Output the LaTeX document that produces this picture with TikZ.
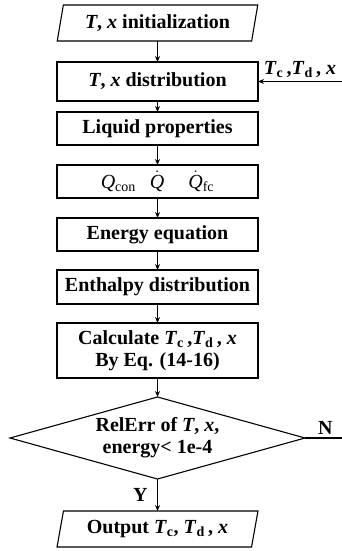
\documentclass[tikz,border=0pt]{standalone}
\usepackage{amsmath}
\usepackage{fontspec}
\setmainfont{Liberation Serif}
\usetikzlibrary{arrows.meta,positioning,shapes.geometric}

\begin{document}
\begin{tikzpicture}[
    x=1pt,y=-1pt,
    font=\fontsize{20}{22}\selectfont\bfseries,
    box/.style={rectangle,draw,line width=1.1pt,minimum width=201pt,minimum height=33pt,align=center,inner sep=2pt,outer sep=0pt},
    io/.style={trapezium,trapezium left angle=77,trapezium right angle=103,trapezium stretches=true,draw,line width=1.1pt,minimum width=201pt,minimum height=36pt,inner sep=2pt,outer sep=0pt},
    decision/.style={diamond,draw,line width=1.1pt,aspect=3.6,minimum width=295pt,minimum height=82pt,inner sep=0pt,outer sep=0pt,align=center},
    arrow/.style={-{Stealth[length=6pt,width=5pt]},line width=1.1pt}
]
    \useasboundingbox (0,0) rectangle (342,551);

    % Nodes
    \node[io] (init) at (157.5,23) {\textit{T}, \textit{x} initialization};
    \node[box,minimum height=39pt] (dist) at (157.5,81.5) {\textit{T}, \textit{x} distribution};
    \node[box] (liquid) at (157.5,128.5) {Liquid properties};
    \node[box,font=\fontsize{20}{22}\selectfont\mdseries] (heat) at (157.5,181.5)
        {\textit{Q}\textsubscript{con}\hspace{14pt}$\dot{\textit{Q}}$\hspace{24pt}$\dot{\textit{Q}}$\textsubscript{fc}};
    \node[box] (energy) at (157.5,234.5) {Energy equation};
    \node[box,minimum height=34pt] (enthalpy) at (157.5,287) {Enthalpy distribution};
    \node[box,minimum height=55pt] (calc) at (157.5,350.5)
        {Calculate \textit{T}\textsubscript{c}\,,\textit{T}\textsubscript{d}\,, \textit{x}\\By Eq. (14-16)};
    \node[decision] (check) at (157.5,438) {RelErr of \textit{T}, \textit{x},\\energy< 1e-4};
    \node[io] (output) at (157.5,529) {Output \textit{T}\textsubscript{c}, \textit{T}\textsubscript{d}\,, \textit{x}};

    \coordinate (edge) at (342,0);
    \coordinate (fbin) at (edge |- dist.east);
    \coordinate (fbout) at (edge |- check.east);

    % Arrows
    \draw[arrow] (init) -- (dist);
    \draw[arrow] (dist) -- (liquid);
    \draw[arrow] (liquid) -- (heat);
    \draw[arrow] (heat) -- (energy);
    \draw[arrow] (energy) -- (enthalpy);
    \draw[arrow] (enthalpy) -- (calc);
    \draw[arrow] (calc) -- (check);
    \draw[arrow] (check) -- node[left=6pt,pos=0.5] (yes) {Y} (output);
    \draw[line width=1.1pt] (check.east) -- node[above,pos=0.55] (no) {N} (fbout);
    \draw[arrow] (fbin) -- node[above] (feed) {\textit{T}\textsubscript{c}\,,\textit{T}\textsubscript{d}\,, \textit{x}} (dist.east);
\end{tikzpicture}
\end{document}
